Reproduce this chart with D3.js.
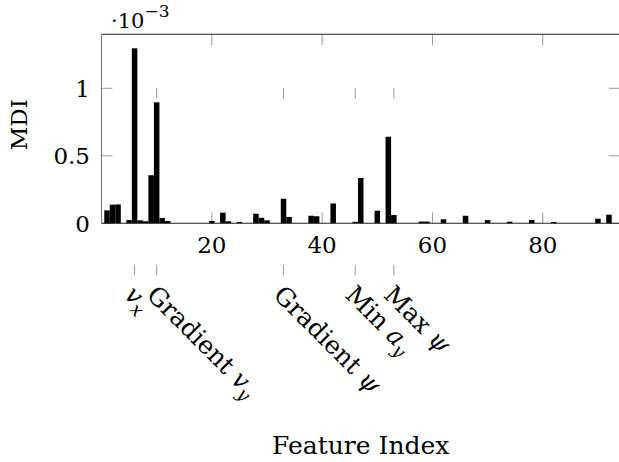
<!DOCTYPE html>
<html>
<head>
<meta charset="utf-8">
<script src="https://cdn.jsdelivr.net/npm/d3@7"></script>
<style>
  body { margin: 0; background: #fff; }
</style>
</head>
<body>
<svg id="chart" width="619" height="462"></svg>
<script>
// Feature index -> MDI (in units of 1e-3), zero bars left out
const featureIdx = [1, 2, 3, 5, 6, 7, 8, 9, 10, 11, 12, 20, 22, 23, 25, 28, 29, 30,
    33, 34, 38, 39, 42, 46, 47, 50, 52, 53, 58, 59, 62, 66, 70, 74, 78, 82, 90, 92];
const mdiValues = [0.096, 0.138, 0.140, 0.024, 1.296, 0.022, 0.015, 0.356, 0.896, 0.039, 0.017, 0.017,
    0.079, 0.015, 0.010, 0.071, 0.041, 0.022, 0.182, 0.047, 0.056, 0.052, 0.147, 0.011,
    0.336, 0.093, 0.641, 0.062, 0.013, 0.013, 0.030, 0.056, 0.024, 0.012, 0.024, 0.010,
    0.034, 0.064];

const xTicks = [20, 40, 60, 80];
const yTicks = [0, 0.5, 1];
const yTickLabels = ["0", "0.5", "1"];

// named features marked below the axis
const featureTicks = [6, 10, 33, 46, 53];
const featureNames = ["", "Gradient ", "Gradient ", "Min ", "Max "];
const featureVars = ["v", "v", "ψ", "a", "ψ"];
const featureSubs = ["x", "y", "", "y", ""];

const plotLeft = 101.5, plotRight = 620, plotTop = 34.3, plotBottom = 223.3;
const serif = "'DejaVu Serif', 'Liberation Serif', serif";

const svg = d3.select("#chart");

const x = d3.scaleLinear().domain([0, 94]).range([plotLeft, plotRight]);
const y = d3.scaleLinear().domain([0, 1.4]).range([plotBottom, plotTop]);
const tickColor = "#9a9a9a";

// extra feature ticks (drawn first, bars go on top)
const ft = svg.append("g");
featureTicks.forEach(v => {
    ft.append("line").attr("x1", x(v)).attr("x2", x(v)).attr("y1", 88).attr("y2", 98.5)
        .attr("stroke", tickColor).attr("stroke-width", 1);
    ft.append("line").attr("x1", x(v)).attr("x2", x(v)).attr("y1", 265).attr("y2", 275.5)
        .attr("stroke", tickColor).attr("stroke-width", 1);
});

// regular ticks, pointing inward on all four sides
const ticks = svg.append("g").attr("stroke", tickColor).attr("stroke-width", 1);
xTicks.forEach(v => {
    ticks.append("line").attr("x1", x(v)).attr("x2", x(v)).attr("y1", plotBottom).attr("y2", plotBottom - 11);
    ticks.append("line").attr("x1", x(v)).attr("x2", x(v)).attr("y1", plotTop).attr("y2", plotTop + 11);
});
yTicks.forEach(v => {
    ticks.append("line").attr("x1", plotLeft).attr("x2", plotLeft + 11).attr("y1", y(v)).attr("y2", y(v));
    ticks.append("line").attr("x1", plotRight).attr("x2", plotRight - 11).attr("y1", y(v)).attr("y2", y(v));
});

// bars
const bw = x(1) - x(0);
svg.append("g").selectAll("rect")
    .data(featureIdx.map((f, i) => ({ f, v: mdiValues[i] })))
    .join("rect")
    .attr("x", d => x(d.f) - bw / 2)
    .attr("y", d => y(d.v))
    .attr("width", bw)
    .attr("height", d => y(0) - y(d.v))
    .attr("fill", "#000");

// frame
svg.append("line").attr("x1", plotLeft).attr("x2", plotRight).attr("y1", plotTop).attr("y2", plotTop)
    .attr("stroke", "#222").attr("stroke-width", 1.1);
svg.append("line").attr("x1", plotLeft).attr("x2", plotRight).attr("y1", plotBottom).attr("y2", plotBottom)
    .attr("stroke", "#222").attr("stroke-width", 1.1);
svg.append("line").attr("x1", plotLeft).attr("x2", plotLeft).attr("y1", plotTop).attr("y2", plotBottom)
    .attr("stroke", "#777").attr("stroke-width", 1.1);
svg.append("line").attr("x1", plotRight).attr("x2", plotRight).attr("y1", plotTop).attr("y2", plotBottom)
    .attr("stroke", "#777").attr("stroke-width", 1.1);

// tick labels
svg.append("g").selectAll("text").data(xTicks).join("text")
    .attr("x", d => x(d)).attr("y", 253)
    .attr("text-anchor", "middle").attr("font-size", 23)
    .text(d => d);
svg.append("g").selectAll("text").data(yTicks).join("text")
    .attr("x", 90).attr("y", d => y(d) + 8.5)
    .attr("text-anchor", "end").attr("font-size", 23)
    .text((d, i) => yTickLabels[i]);

// scale factor
const sf = svg.append("text").attr("x", 111).attr("y", 28).attr("font-size", 21);
sf.append("tspan").text("·10");
sf.append("tspan").attr("dy", -11).attr("font-size", 17).text("−3");

// axis titles
svg.append("text")
    .attr("transform", `translate(27,${(plotTop + plotBottom) / 2 - 4}) rotate(-90)`)
    .attr("text-anchor", "middle").attr("font-size", 23)
    .text("MDI");
svg.append("text")
    .attr("x", (plotLeft + plotRight) / 2).attr("y", 454)
    .attr("text-anchor", "middle").attr("font-size", 25)
    .text("Feature Index");

// rotated feature names
featureTicks.forEach((v, i) => {
    const t = svg.append("text")
        .attr("transform", `translate(${x(v) + 2},283) rotate(45)`)
        .attr("dy", "0.75em")
        .attr("font-size", 25);
    if (featureNames[i]) t.append("tspan").text(featureNames[i]);
    t.append("tspan").attr("font-style", "italic").text(featureVars[i]);
    if (featureSubs[i]) {
        t.append("tspan").attr("font-style", "italic").attr("font-size", 18)
            .attr("dy", 6).text(featureSubs[i]);
    }
});

svg.selectAll("text").style("font-family", serif).style("fill", "#000");
</script>
</body>
</html>
